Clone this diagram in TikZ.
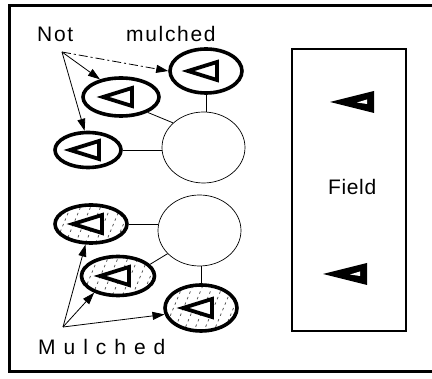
\documentclass[tikz,border=0pt]{standalone}
\usepackage{fontspec}
\setmainfont{Liberation Sans}
\newfontfamily\spacedfont[LetterSpace=8]{Liberation Sans}
\newfontfamily\fieldfont[LetterSpace=3]{Liberation Sans}
\newfontfamily\widefont[LetterSpace=38]{Liberation Sans}
\usetikzlibrary{shapes.geometric,arrows.meta}
\tikzset{
  plant/.style={ellipse,draw,line width=3.6pt,inner sep=0pt,minimum width=72pt,minimum height=40pt,fill=white},
  mulch/.style={plant,path picture={
      \foreach \i in {-70,-60,...,70}{
        \draw[black!70,line width=0.7pt,dash pattern=on 2.5pt off 3.5pt]
          ([xshift=\i pt,yshift=-30pt]path picture bounding box.center) -- ++(25pt,60pt);}}},
  pot/.style={ellipse,draw,line width=0.7pt,inner sep=0pt,minimum width=83pt,minimum height=71pt},
  link/.style={line width=0.8pt},
  arr/.style={line width=0.8pt,-{Triangle[length=12pt,width=8pt]}},
  lab/.style={anchor=base west,inner sep=0pt,font=\fontsize{21}{24}\selectfont\spacedfont},
  tri/.pic={\draw[line width=3.8pt,line join=miter,fill=white] (-18,0) -- (11,-9) -- (11,9) -- cycle;},
  ftri/.pic={\fill (0,0) -- (44,-11) -- (44,11) -- cycle;
             \fill[white] (27,0.5) -- (37,-2.5) -- (37,2) -- cycle;}
}
\begin{document}
\begin{tikzpicture}[x=1pt,y=-1pt]
\useasboundingbox (0,0) rectangle (432,379);
% frame
\draw[line width=3pt] (432,6) -- (9,6) -- (9,372) -- (432,372);
% field
\node[draw,line width=1.5pt,minimum width=114pt,minimum height=282pt,inner sep=0pt] (field) at (349,190) {};
\pic at (330,102) {ftri};
\pic at (323,274) {ftri};
\node[lab,font=\fontsize{21}{24}\selectfont\fieldfont] (fieldlab) at (328,195) {Field};
% pots
\node[pot] (potA) at (203.5,147.5) {};
\node[pot] (potB) at (199.5,230.5) {};
% not mulched plants
\node[plant,minimum width=72pt,minimum height=44pt] (e1) at (206,71) {};
\node[plant,minimum width=76pt,minimum height=38pt] (e2) at (121,97) {};
\node[plant,minimum width=66pt,minimum height=35pt] (e3) at (88,150) {};
\pic at (e1) {tri};
\pic at (e2) {tri};
\pic at (e3) {tri};
% mulched plants
\node[mulch,minimum width=72pt,minimum height=38pt] (m1) at (91,224) {};
\node[mulch,minimum width=73pt,minimum height=39pt] (m2) at (118,276) {};
\node[mulch,minimum width=72pt,minimum height=46pt] (m3) at (201,308) {};
\pic at (m1) {tri};
\pic at (m2) {tri};
\pic at (m3) {tri};
% links
\draw[link] (e1.south) -- (potA.north -| e1.south);
\draw[link] (e2.-30) -- (potA.141);
\draw[link] (e3.east) -- (potA.west |- e3.east);
\draw[link] (m1.east) -- (potB.west |- m1.east);
\draw[link] (m2.20) -- (potB.216);
\draw[link] (m3.north) -- (potB.south -| m3.north);
% labels
\node[lab] (notlab) at (37,42) {Not};
\node[lab] (mullab) at (126,42) {mulched};
\node[lab,font=\fontsize{21}{24}\selectfont\widefont] (mlab) at (38,355) {Mulched};
\coordinate (np) at (62,52);
\coordinate (mp) at (63,327);
\draw[arr,dash pattern=on 9pt off 3pt on 2pt off 3pt] (np) -- (e1.west);
\draw[arr] (np) -- (e2.140);
\draw[arr] (np) -- (e3.100);
\draw[arr] (mp) -- (m1.255);
\draw[arr] (mp) -- (m2.215);
\draw[arr] (mp) -- (m3.190);
\end{tikzpicture}
\end{document}
